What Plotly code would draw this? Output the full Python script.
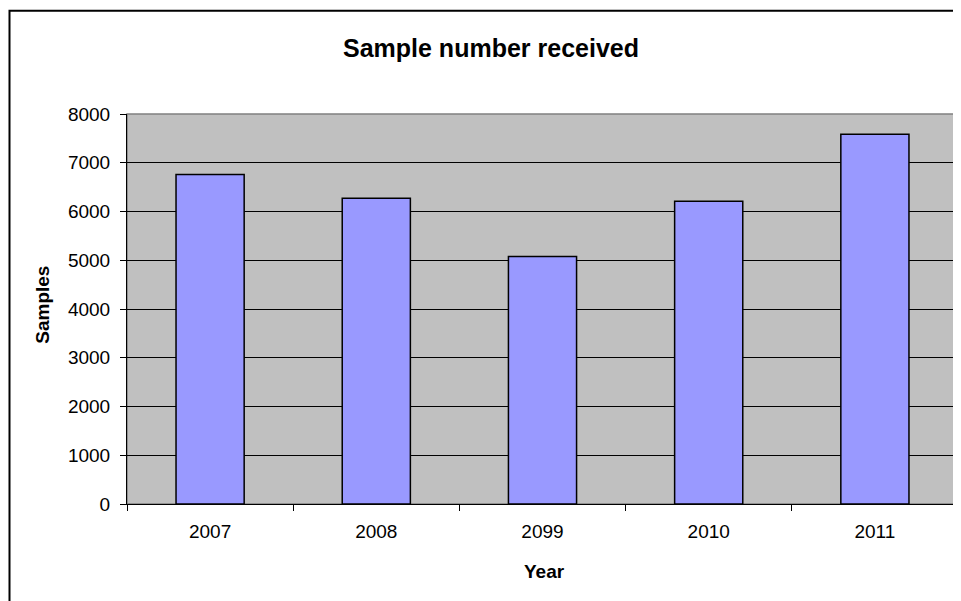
import plotly.graph_objects as go

years = ["2007", "2008", "2099", "2010", "2011"]
samples = [6757, 6273, 5077, 6212, 7584]
y_ticks = [0, 1000, 2000, 3000, 4000, 5000, 6000, 7000, 8000]

FONT = "Liberation Sans, Arial, sans-serif"

# page body has an 8px margin; plot area on screen: x 127..958, y 114..504.5
fig = go.Figure()
fig.add_trace(go.Bar(
    x=years, y=samples,
    marker=dict(color="#9999FF", line=dict(color="#000000", width=1.5)),
    width=0.41,
))

fig.update_layout(
    width=961, height=601,
    margin=dict(l=119, r=11, t=106, b=104.5),
    paper_bgcolor="white",
    plot_bgcolor="#C0C0C0",
    showlegend=False,
    font=dict(family=FONT, color="black"),
    xaxis=dict(
        type="category",
        showgrid=False,
        showline=True, linecolor="black", linewidth=1,
        ticks="outside", tickson="boundaries", ticklen=6, tickcolor="black",
        tickfont=dict(size=19, family=FONT),
        ticklabelstandoff=10,
        zeroline=False,
    ),
    yaxis=dict(
        range=[0, 8000],
        tickvals=y_ticks,
        showgrid=True, gridcolor="black", gridwidth=1,
        showline=True, linecolor="black", linewidth=1,
        ticks="outside", ticklen=6, tickcolor="black",
        tickfont=dict(size=19, family=FONT),
        ticklabelstandoff=6,
        zeroline=False,
    ),
    shapes=[
        dict(type="rect", xref="paper", yref="paper", x0=0, x1=1, y0=0, y1=1,
             line=dict(color="#808080", width=1.5), layer="below"),
        dict(type="rect", xref="paper", yref="paper",
             x0=(9.5 - 127) / 831, x1=(990 - 127) / 831,
             y0=(504.5 - 640) / 390.5, y1=(504.5 - 10.5) / 390.5,
             line=dict(color="black", width=2)),
    ],
    annotations=[
        dict(text="<b>Sample number received</b>", xref="paper", yref="paper",
             x=(491 - 127) / 831, y=(504.5 - 48) / 390.5,
             xanchor="center", yanchor="middle", showarrow=False,
             font=dict(size=25, family=FONT)),
        dict(text="<b>Year</b>", xref="paper", yref="paper",
             x=(544 - 127) / 831, y=(504.5 - 572) / 390.5,
             xanchor="center", yanchor="middle", showarrow=False,
             font=dict(size=19, family=FONT)),
        dict(text="<b>Samples</b>", xref="paper", yref="paper",
             x=(43 - 127) / 831, y=(504.5 - 305) / 390.5,
             xanchor="center", yanchor="middle", showarrow=False, textangle=-90,
             font=dict(size=19, family=FONT)),
    ],
)

fig.write_html("out.html")
